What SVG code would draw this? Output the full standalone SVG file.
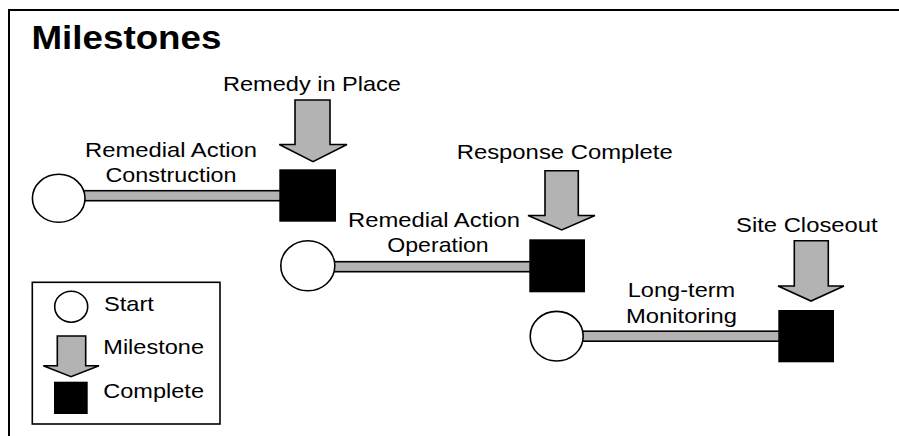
<svg xmlns="http://www.w3.org/2000/svg" width="899" height="436" viewBox="0 0 899 436">
<style>
  text { font-family: "Liberation Sans", Arial, sans-serif; font-size: 21px; fill: #000; }
  .title { font-size: 33px; font-weight: bold; }
  .mid { text-anchor: middle; }
  .start { fill: #fff; stroke: #000; stroke-width: 1.6; }
  .done { fill: #000; }
  .ms { fill: #b3b3b3; stroke: #000; stroke-width: 1.6; stroke-linejoin: miter; }
  .bar { fill: #b3b3b3; stroke: #000; stroke-width: 1.6; }
</style>
<rect width="899" height="436" fill="#fff"/>
<rect id="frame" x="9" y="10" width="900" height="440" fill="none" stroke="#000" stroke-width="2"/>
<text class="title" transform="matrix(1.12 0 0 1 31.5 49.3)" textLength="169.6" lengthAdjust="spacingAndGlyphs">Milestones</text>

<g id="connectors">
  <rect class="bar" x="80" y="190.7" width="202" height="10"/>
  <rect class="bar" x="330" y="261.7" width="202" height="10"/>
  <rect class="bar" x="578" y="331.2" width="203" height="10"/>
</g>

<g id="start1">
  <ellipse class="start" cx="58.7" cy="198.3" rx="26.3" ry="24"/>
</g>
<g id="complete1">
  <rect class="done" x="279.3" y="169.3" width="56.7" height="52.4"/>
</g>
<g id="phase1-label">
  <text class="mid" transform="matrix(1.12 0 0 1 171 156.7)" textLength="153.6" lengthAdjust="spacingAndGlyphs">Remedial Action</text>
  <text class="mid" transform="matrix(1.12 0 0 1 171 182.2)" textLength="117" lengthAdjust="spacingAndGlyphs">Construction</text>
</g>
<g id="milestone1">
  <path class="ms" d="M295,100 H330 V144.5 H347 L313,161.7 L279.3,144.5 H295 Z"/>
  <text transform="matrix(1.12 0 0 1 223 90.7)" textLength="158.9" lengthAdjust="spacingAndGlyphs">Remedy in Place</text>
</g>

<g id="start2">
  <ellipse class="start" cx="307.8" cy="265.8" rx="27" ry="25"/>
</g>
<g id="complete2">
  <rect class="done" x="529.3" y="239.3" width="55.7" height="53"/>
</g>
<g id="phase2-label">
  <text class="mid" transform="matrix(1.12 0 0 1 434 226.7)" textLength="153.6" lengthAdjust="spacingAndGlyphs">Remedial Action</text>
  <text class="mid" transform="matrix(1.12 0 0 1 438 251.7)" textLength="90.5" lengthAdjust="spacingAndGlyphs">Operation</text>
</g>
<g id="milestone2">
  <path class="ms" d="M545,170.7 H578.3 V215.5 H595 L561.7,230 L528,215.5 H545 Z"/>
  <text transform="matrix(1.12 0 0 1 456.7 159.3)" textLength="192.9" lengthAdjust="spacingAndGlyphs">Response Complete</text>
</g>

<g id="start3">
  <ellipse class="start" cx="556.7" cy="336.2" rx="26.5" ry="24.8"/>
</g>
<g id="complete3">
  <rect class="done" x="778.3" y="310" width="55.7" height="52.3"/>
</g>
<g id="phase3-label">
  <text class="mid" transform="matrix(1.12 0 0 1 681.5 297.3)" textLength="96" lengthAdjust="spacingAndGlyphs">Long-term</text>
  <text class="mid" transform="matrix(1.12 0 0 1 681.5 323.3)" textLength="99.1" lengthAdjust="spacingAndGlyphs">Monitoring</text>
</g>
<g id="milestone3">
  <path class="ms" d="M794.3,240.7 H828.3 V286 H844 L811,301 L778,286 H794.3 Z"/>
  <text transform="matrix(1.12 0 0 1 736 232.3)" textLength="126.5" lengthAdjust="spacingAndGlyphs">Site Closeout</text>
</g>

<g id="legend">
  <rect x="32.3" y="282.3" width="187.7" height="141.7" fill="#fff" stroke="#000" stroke-width="1.6"/>
  <ellipse class="start" cx="71.2" cy="306.7" rx="16.5" ry="15.5"/>
  <text transform="matrix(1.12 0 0 1 104 311)" textLength="44.6" lengthAdjust="spacingAndGlyphs">Start</text>
  <path class="ms" d="M57.3,336 H85.7 V365.7 H99 L71,376.7 L43.3,365.7 H57.3 Z"/>
  <text transform="matrix(1.12 0 0 1 103.3 354)" textLength="89.9" lengthAdjust="spacingAndGlyphs">Milestone</text>
  <rect class="done" x="54" y="381.7" width="33.7" height="32.3"/>
  <text transform="matrix(1.12 0 0 1 103.3 398.3)" textLength="89.9" lengthAdjust="spacingAndGlyphs">Complete</text>
</g>
</svg>
